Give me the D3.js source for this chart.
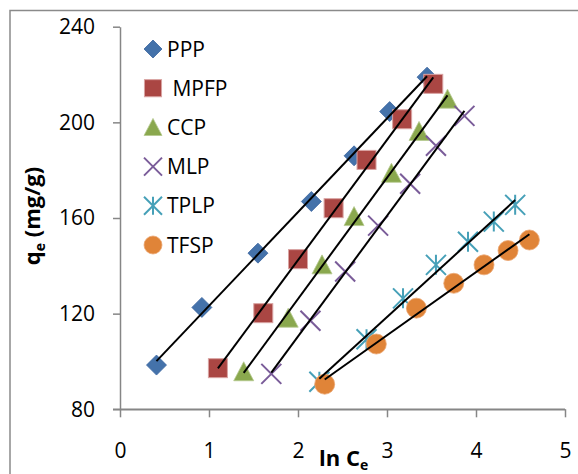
<!DOCTYPE html>
<html><head><meta charset="utf-8">
<script src="https://cdn.jsdelivr.net/npm/d3@7"></script>
<style>body{margin:0;background:#fff;} svg{display:block}</style>
</head><body>
<svg id="c" width="578" height="474"></svg>
<script>
// ---- data ----
const seriesNames = ["PPP", " MPFP", "CCP", "MLP", "TPLP", "TFSP"];
const xPPP  = [0.41, 0.92, 1.55, 2.15, 2.63, 3.03, 3.45];
const yPPP  = [98.5, 122.6, 145.3, 166.9, 186.0, 204.5, 218.9];
const xMPFP = [1.10, 1.61, 2.00, 2.40, 2.77, 3.17, 3.52];
const yMPFP = [97.2, 120.2, 142.8, 164.1, 184.3, 201.3, 216.1];
const xCCP  = [1.39, 1.89, 2.27, 2.63, 3.05, 3.36, 3.68];
const yCCP  = [95.7, 118.1, 140.4, 160.6, 178.7, 196.2, 209.7];
const xMLP  = [1.70, 2.14, 2.53, 2.90, 3.26, 3.55, 3.87];
const yMLP  = [94.8, 117.0, 137.6, 156.8, 174.3, 190.2, 202.7];
const xTPLP = [2.24, 2.77, 3.18, 3.55, 3.91, 4.20, 4.44];
const yTPLP = [91.5, 109.3, 126.4, 140.4, 150.1, 158.5, 165.5];
const xTFSP = [2.30, 2.88, 3.33, 3.75, 4.09, 4.36, 4.60];
const yTFSP = [90.5, 107.3, 122.3, 132.7, 140.4, 146.4, 150.8];
const xTicks = [0, 1, 2, 3, 4, 5];
const yTicks = [80, 120, 160, 200, 240];

const seriesX = [xPPP, xMPFP, xCCP, xMLP, xTPLP, xTFSP];
const seriesY = [yPPP, yMPFP, yCCP, yMLP, yTPLP, yTFSP];
const colors = ["#4472AA", "#AA4643", "#8AA84E", "#7A5C99", "#46A0B8", "#E08438"];
const shapes = ["diamond", "square", "triangle", "x", "star", "circle"];

const svg = d3.select("#c");
const FONT = "'Open Sans', 'Liberation Sans', sans-serif";
const axisColor = "#868686";

// outer frame
svg.append("rect").attr("x", 10).attr("y", 10.5).attr("width", 600).attr("height", 500)
  .attr("fill", "none").attr("stroke", "#8a8a8a").attr("stroke-width", 1.5);

const x = d3.scaleLinear().domain([0, 5]).range([120, 565]);
const y = d3.scaleLinear().domain([80, 240]).range([409.3, 26.7]);

// axes
const gx = svg.append("g").attr("transform", `translate(0,${y(80)})`)
  .call(d3.axisBottom(x).tickValues(xTicks).tickSize(8).tickSizeOuter(0).tickPadding(26).tickFormat(d3.format("d")));
const gy = svg.append("g").attr("transform", `translate(${x(0)},0)`)
  .call(d3.axisLeft(y).tickValues(yTicks).tickSize(7).tickSizeOuter(0).tickPadding(18).tickFormat(d3.format("d")));
[gx, gy].forEach(g => {
  g.selectAll("path,line").attr("stroke", axisColor).attr("stroke-width", 1.5);
  g.selectAll("text").attr("fill", "#000").style("font-family", FONT).style("font-size", "21px");
});
// extend x axis line left to meet y tick
svg.append("line").attr("x1", x(0) - 7).attr("x2", x(5)).attr("y1", y(80)).attr("y2", y(80))
  .attr("stroke", axisColor).attr("stroke-width", 1.5);

// markers
function drawMarker(g, shape, color, cx, cy, s) {
  const h = s / 2;
  if (shape === "diamond") {
    g.append("path").attr("d", `M${cx},${cy - h}L${cx + h},${cy}L${cx},${cy + h}L${cx - h},${cy}Z`)
      .attr("fill", color).attr("stroke", "#3a64a0").attr("stroke-width", 0.8);
  } else if (shape === "square") {
    const q = h * 0.95;
    g.append("rect").attr("x", cx - q).attr("y", cy - q).attr("width", 2 * q).attr("height", 2 * q)
      .attr("fill", color).attr("stroke", "#d9a3a2").attr("stroke-width", 1);
  } else if (shape === "triangle") {
    g.append("path").attr("d", `M${cx},${cy - h}L${cx + h},${cy + h * 0.9}L${cx - h},${cy + h * 0.9}Z`)
      .attr("fill", color).attr("stroke", "#b5c98f").attr("stroke-width", 0.8);
  } else if (shape === "x") {
    g.append("path").attr("d", `M${cx - h},${cy - h}L${cx + h},${cy + h}M${cx - h},${cy + h}L${cx + h},${cy - h}`)
      .attr("stroke", color).attr("stroke-width", 2).attr("fill", "none");
  } else if (shape === "star") {
    g.append("path").attr("d", `M${cx - h},${cy - h}L${cx + h},${cy + h}M${cx - h},${cy + h}L${cx + h},${cy - h}M${cx},${cy - h}L${cx},${cy + h}`)
      .attr("stroke", color).attr("stroke-width", 2).attr("fill", "none");
  } else {
    g.append("circle").attr("cx", cx).attr("cy", cy).attr("r", h)
      .attr("fill", color).attr("stroke", "#eba774").attr("stroke-width", 0.8);
  }
}

const marks = svg.append("g");
seriesX.forEach((xs, i) => {
  xs.forEach((xv, j) => drawMarker(marks, shapes[i], colors[i], x(xv), y(seriesY[i][j]), 20));
});

// trend lines (least squares)
const lines = svg.append("g");
seriesX.forEach((xs, i) => {
  const ys = seriesY[i];
  const n = xs.length;
  const mx = d3.mean(xs), my = d3.mean(ys);
  let sxy = 0, sxx = 0;
  for (let k = 0; k < n; k++) { sxy += (xs[k] - mx) * (ys[k] - my); sxx += (xs[k] - mx) ** 2; }
  const b = sxy / sxx, a = my - b * mx;
  const x0 = d3.min(xs), x1 = d3.max(xs);
  lines.append("line").attr("x1", x(x0)).attr("y1", y(a + b * x0)).attr("x2", x(x1)).attr("y2", y(a + b * x1))
    .attr("stroke", "#000").attr("stroke-width", 2);
});

// legend
const leg = svg.append("g");
seriesNames.forEach((name, i) => {
  const ly = 49 + i * 39.2;
  drawMarker(leg, shapes[i], colors[i], 153, ly, 18);
  leg.append("text").attr("x", 167).attr("y", ly).attr("dy", "0.36em")
    .style("white-space", "pre").style("font-family", FONT).style("font-size", "21px").text(name);
});

// axis titles
const yt = svg.append("text").attr("transform", "translate(40,216) rotate(-90)")
  .attr("text-anchor", "middle").style("font-family", FONT).style("font-size", "22px").style("font-weight", "bold");
yt.append("tspan").text("q");
yt.append("tspan").attr("dy", 5).style("font-size", "14px").text("e");
yt.append("tspan").attr("dy", -5).text(" (mg/g)");

const xt = svg.append("text").attr("x", 319).attr("y", 466)
  .style("font-family", FONT).style("font-size", "22px").style("font-weight", "bold");
xt.append("tspan").text("ln C");
xt.append("tspan").attr("dy", 4).style("font-size", "14px").text("e");
</script>
</body></html>
